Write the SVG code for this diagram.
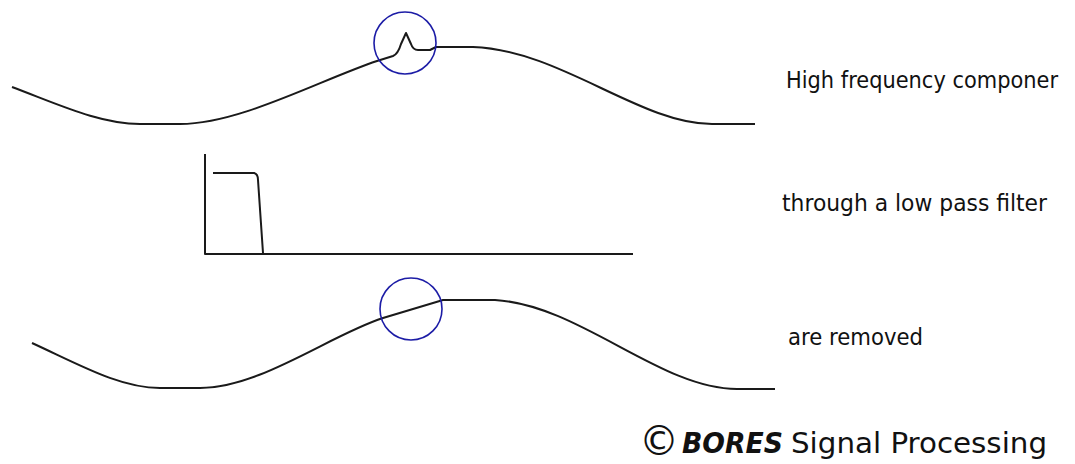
<svg xmlns="http://www.w3.org/2000/svg" width="1075" height="464" viewBox="0 0 1075 464">
<style>
.wave{fill:none;stroke:#1a1a1a;stroke-width:2;stroke-linejoin:round}
.ring{fill:none;stroke:#1c1ca6;stroke-width:1.6}
.lbl{font-family:"DejaVu Sans","Liberation Sans",sans-serif;font-size:23px;fill:#111}
</style>
<rect width="1075" height="464" fill="#fff"/>
<g id="top-signal">
<path class="wave" d="M12,87 C60,105 100,124 140,124 L180,124 C240,124 320,80 377,61 L393,56 Q398,54 401,44 L406,33 L411,44 Q413,50 418,50 L430,50 L436,47 L473,47 C560,50 640,124 712,124 L755,124"/>
<circle class="ring" cx="405" cy="43" r="31"/>
</g>
<g id="filter">
<path class="wave" d="M205,154 L205,254 L633,254"/>
<path class="wave" d="M213,173 L254,173 Q258,174 258,180 L263,253"/>
</g>
<g id="bottom-signal">
<path class="wave" d="M32,343 C80,365 120,388 160,388 L200,388 C260,388 330,335 383,318 L443,300 L495,300 C580,305 660,389 737,389 L775,389"/>
<circle class="ring" cx="411" cy="309" r="31"/>
</g>
<g id="labels">
<text class="lbl" x="786" y="88" textLength="272" lengthAdjust="spacingAndGlyphs">High frequency componer</text>
<text class="lbl" x="782" y="211" textLength="265" lengthAdjust="spacingAndGlyphs">through a low pass filter</text>
<text class="lbl" x="788" y="345" textLength="135" lengthAdjust="spacingAndGlyphs">are removed</text>
</g>
<g id="copyright">
<text x="639" y="455" font-family="DejaVu Sans, sans-serif" font-size="40" fill="#111">©</text>
<text x="682" y="453" font-family="DejaVu Sans, sans-serif" font-size="29" font-weight="bold" font-style="italic" fill="#111" textLength="101" lengthAdjust="spacingAndGlyphs">BORES</text>
<text x="791" y="453" font-family="DejaVu Sans, sans-serif" font-size="29" fill="#111" textLength="256" lengthAdjust="spacingAndGlyphs">Signal Processing</text>
</g>
</svg>
